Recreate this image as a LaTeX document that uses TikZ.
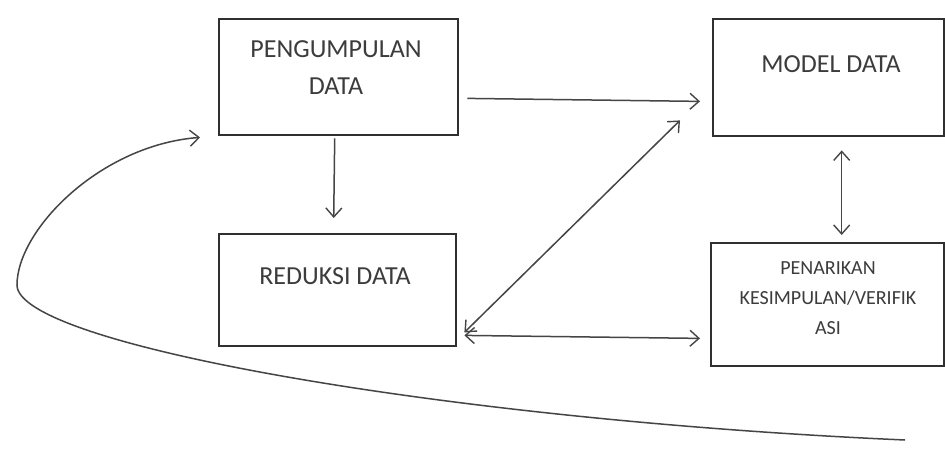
\documentclass[tikz,border=0pt]{standalone}
\usepackage{fontspec}
\setmainfont{Carlito}
\usetikzlibrary{arrows.meta}
\definecolor{ink}{HTML}{303030}
\definecolor{txtc}{HTML}{3C3C3C}
\definecolor{linec}{HTML}{454545}
\tikzset{
  boxshape/.style={draw=ink, line width=2.4pt, rectangle, inner sep=0pt, anchor=north west},
  lbl/.style={text=txtc, align=center, inner sep=0pt, font=\fontsize{26}{37}\selectfont},
  lblsmall/.style={text=txtc, align=center, inner sep=0pt, font=\fontsize{20}{30}\selectfont},
  conn/.style={draw=linec, line width=1.5pt, -{Straight Barb[length=9pt,width=16pt,line width=1.4pt]}},
  conn2/.style={draw=linec, line width=1.5pt, {Straight Barb[length=9pt,width=16pt,line width=1.4pt]}-{Straight Barb[length=9pt,width=16pt,line width=1.4pt]}}
}
\begin{document}
\begin{tikzpicture}[x=1pt,y=-1pt]
\useasboundingbox[fill=white] (0,0) rectangle (945,449);
% boxes
\node[boxshape, minimum width=239pt, minimum height=116pt] (pd) at (218,18) {};
\node[boxshape, minimum width=231pt, minimum height=117pt] (md) at (712,18) {};
\node[boxshape, minimum width=237pt, minimum height=112pt] (rd) at (218,233) {};
\node[boxshape, minimum width=233pt, minimum height=123pt] (pk) at (710,242) {};
% labels
\node[lbl] (pdt) at (336,68) {PENGUMPULAN\\DATA};
\node[lbl] (mdt) at (831,64) {MODEL DATA};
\node[lbl] (rdt) at (335,276) {REDUKSI DATA};
\node[lblsmall] (pkt) at (828,298) {PENARIKAN\\KESIMPULAN/VERIFIK\\ASI};
% connectors
\draw[conn] ([shift={(8,-38)}]pd.south east) -- ([shift={(-12,-36)}]md.south west);
\draw[conn] ([shift={(-4,2)}]pd.south) -- ([shift={(-4,-15)}]rd.north);
\draw[conn2] ([shift={(13,13)}]md.south) -- ([shift={(14,-7)}]pk.north);
\draw[conn2] ([shift={(7,-15)}]rd.south east) -- ([shift={(-32,-17)}]md.south west);
\draw[conn2] ([shift={(7,-12)}]rd.south east) -- ([shift={(-10,-29)}]pk.south west);
% feedback curve
\coordinate (fb) at (905,440);
\coordinate (fbl) at (17,285);
\draw[conn] (fb) .. controls (450,420) and (17,345) .. (fbl)
  .. controls (17,230) and (100,145) .. ([shift={(-18,1)}]pd.south west);
\end{tikzpicture}
\end{document}
